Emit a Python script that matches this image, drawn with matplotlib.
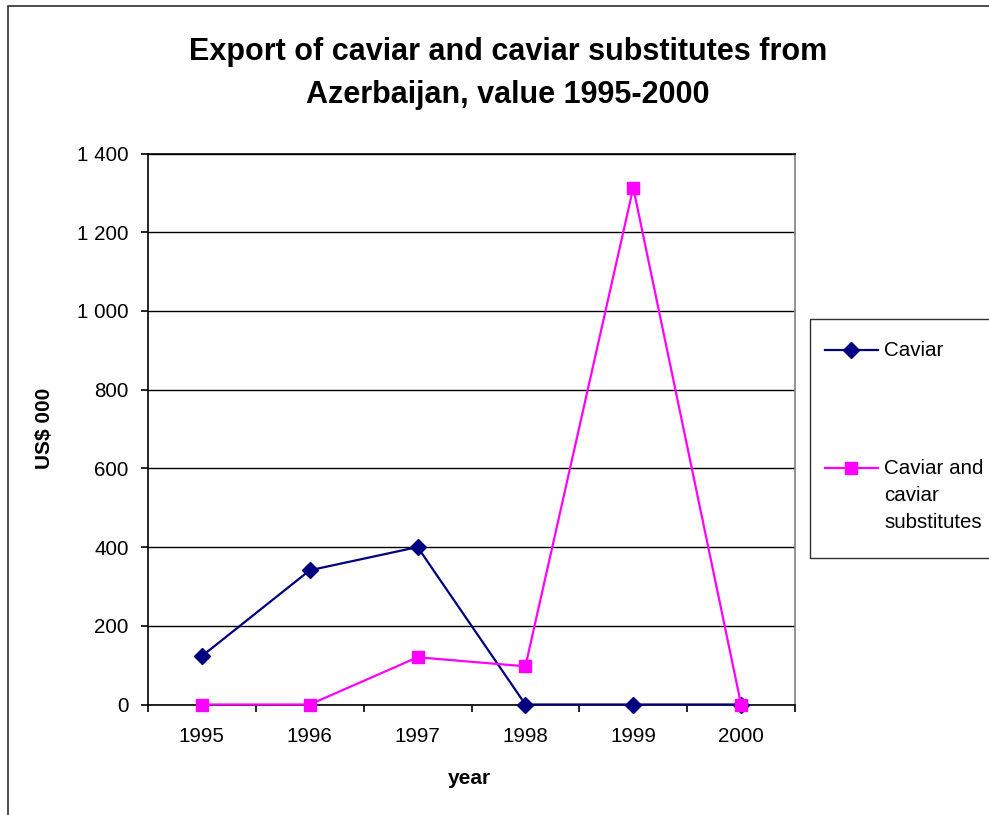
import numpy as np
import matplotlib.pyplot as plt
from matplotlib.patches import Rectangle
from matplotlib.lines import Line2D
from matplotlib.ticker import FuncFormatter

plt.rcParams['font.family'] = ['Liberation Sans', 'DejaVu Sans']

years = ['1995', '1996', '1997', '1998', '1999', '2000']
caviar = [123, 341, 400, 0, 0, 0]
caviar_subst = [0, 0, 120, 97, 1313, 0]

NAVY = '#000080'
MAGENTA = '#FF00FF'
W, H = 989, 815

def px(x, y):
    # pixel position (top-left origin) -> figure fraction
    return x / W, 1 - y / H

fig = plt.figure(figsize=(W / 100, H / 100), dpi=100)
ax = fig.add_axes([148 / W, 1 - 704.5 / H, 647 / W, 551 / H])

xpos = np.arange(len(years)) + 0.5
ax.plot(xpos, caviar, color=NAVY, lw=1.6, marker='D', ms=8.5, mfc=NAVY, mec=NAVY,
        zorder=3, clip_on=False)
ax.plot(xpos, caviar_subst, color=MAGENTA, lw=1.6, marker='s', ms=8, mfc=MAGENTA, mec=MAGENTA,
        zorder=4, clip_on=False)

ax.set_xlim(0, len(years))
ax.set_ylim(0, 1400)
ax.set_yticks(np.arange(0, 1401, 200))
ax.yaxis.set_major_formatter(FuncFormatter(lambda v, p: f'{int(v):,}'.replace(',', ' ')))
ax.grid(axis='y', color='black', lw=1.0)
ax.set_axisbelow(True)

# category boundaries carry the ticks, labels sit in the middle
ax.set_xticks(np.arange(len(years) + 1))
ax.set_xticklabels([])
ax.set_xticks(xpos, minor=True)
ax.set_xticklabels(years, minor=True)
ax.tick_params(axis='x', which='major', direction='out', length=5, width=1.2, color='black')
ax.tick_params(axis='x', which='minor', length=0, pad=16, labelsize=14.8)
ax.tick_params(axis='y', direction='out', length=5, width=1.2, pad=9, labelsize=14.8)

for side in ['left', 'bottom', 'top']:
    ax.spines[side].set_color('black')
    ax.spines[side].set_linewidth(1.2)
ax.spines['right'].set_color('#808080')
ax.spines['right'].set_linewidth(1.2)

# titles and axis labels
fig.text(*px(508, 52), 'Export of caviar and caviar substitutes from',
         ha='center', va='center', fontsize=22, fontweight='bold')
fig.text(*px(508, 95), 'Azerbaijan, value 1995-2000',
         ha='center', va='center', fontsize=22, fontweight='bold')
fig.text(*px(45, 428), 'US$ 000', rotation=90, ha='center', va='center',
         fontsize=15, fontweight='bold')
fig.text(*px(469, 778), 'year', ha='center', va='center',
         fontsize=15, fontweight='bold')

# outer chart frame
x0, y0 = px(8, 830)
fig.add_artist(Rectangle((x0, y0), 1.2, 1 - 6 / H - y0, transform=fig.transFigure,
                         fill=False, ec='#303030', lw=1.2))

# legend box
lx0, ly0 = px(810, 558)
fig.add_artist(Rectangle((lx0, ly0), 0.3, (558 - 319) / H, transform=fig.transFigure,
                         fill=False, ec='#303030', lw=1.0))
for yy, col, mk, ms, label in [(350, NAVY, 'D', 8.5, 'Caviar'),
                               (468, MAGENTA, 's', 8, 'Caviar and\ncaviar\nsubstitutes')]:
    xa, ya = px(825, yy)
    xb, _ = px(878, yy)
    xm, _ = px(851, yy)
    fig.add_artist(Line2D([xa, xb], [ya, ya], color=col, lw=1.6, transform=fig.transFigure))
    fig.add_artist(Line2D([xm], [ya], color=col, marker=mk, ms=ms, mfc=col, mec=col,
                          transform=fig.transFigure))
    tx, ty = px(884, yy - 9)
    fig.text(tx, ty, label, ha='left', va='top', fontsize=14.8, linespacing=1.55)

fig.savefig('out.png', dpi=100)
